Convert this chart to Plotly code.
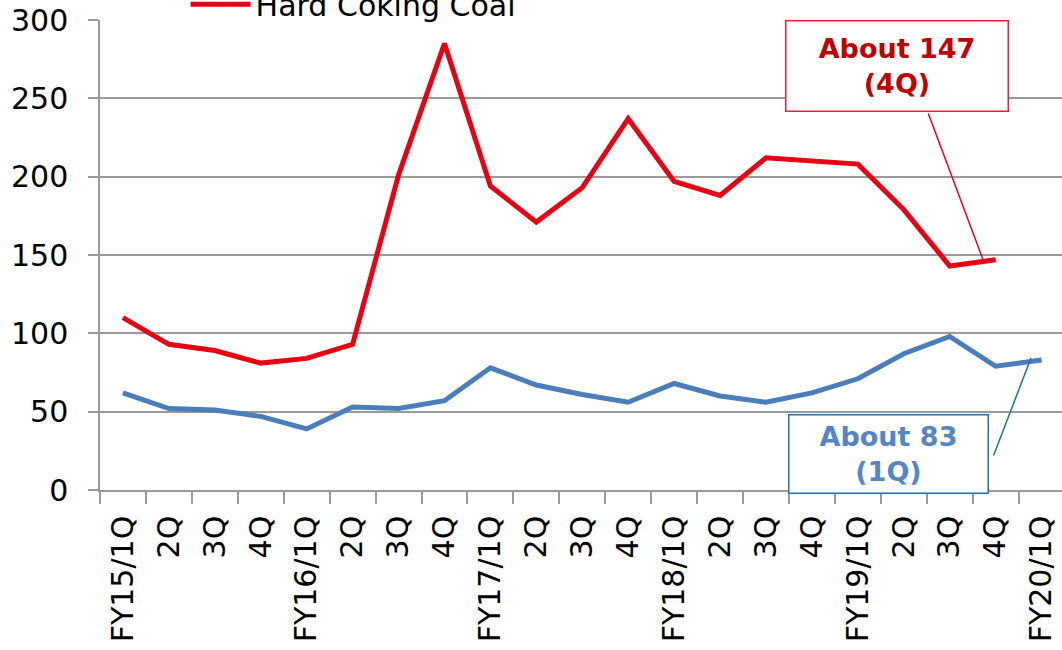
import plotly.graph_objects as go

# Quarterly coal prices (US$/t), FY15/1Q .. FY20/1Q
quarters = [
    "FY15/1Q", "FY15/2Q", "FY15/3Q", "FY15/4Q",
    "FY16/1Q", "FY16/2Q", "FY16/3Q", "FY16/4Q",
    "FY17/1Q", "FY17/2Q", "FY17/3Q", "FY17/4Q",
    "FY18/1Q", "FY18/2Q", "FY18/3Q", "FY18/4Q",
    "FY19/1Q", "FY19/2Q", "FY19/3Q", "FY19/4Q",
    "FY20/1Q",
]
tick_labels = [
    "FY15/1Q", "2Q", "3Q", "4Q",
    "FY16/1Q", "2Q", "3Q", "4Q",
    "FY17/1Q", "2Q", "3Q", "4Q",
    "FY18/1Q", "2Q", "3Q", "4Q",
    "FY19/1Q", "2Q", "3Q", "4Q",
    "FY20/1Q",
]
hard_coking_coal = [110, 93, 89, 81, 84, 93, 201, 285, 194, 171, 193, 237,
                    197, 188, 212, 210, 208, 179, 143, 147, None]
thermal_coal = [62, 52, 51, 47, 39, 53, 52, 57, 78, 67, 61, 56,
                68, 60, 56, 62, 71, 87, 98, 79, 83]

RED = "#E60012"
BLUE = "#4A7EBB"
GRID = "#9A9A9A"
FONT = "DejaVu Sans"

fig = go.Figure()
fig.add_trace(go.Scatter(
    x=quarters, y=thermal_coal, name="Thermal Coal", mode="lines",
    line=dict(color=BLUE, width=5),
))
fig.add_trace(go.Scatter(
    x=quarters, y=hard_coking_coal, name="Hard Coking Coal", mode="lines",
    line=dict(color=RED, width=5),
))

# callout boxes
box_font = dict(family=FONT, size=27, weight="bold")
fig.add_annotation(
    x=16.863, y=270.8, xref="x", yref="y", showarrow=False,
    text="About 147<br>(4Q)", align="center",
    font=dict(box_font, color="#C00000"),
    bgcolor="white", bordercolor="#E8203A", borderwidth=1.5, borderpad=0,
    width=221, height=89,
)
fig.add_annotation(
    x=16.678, y=23.3, xref="x", yref="y", showarrow=False,
    text="About 83<br>(1Q)", align="center",
    font=dict(box_font, color="#5585C5"),
    bgcolor="white", bordercolor="#1F6FB8", borderwidth=1.5, borderpad=0,
    width=198, height=77,
)
# leader lines
fig.add_annotation(
    x=18.72, y=147.5, xref="x", yref="y", text="", showarrow=True,
    arrowhead=0, arrowwidth=1.5, arrowcolor=RED, ax=-55, ay=-147, standoff=0,
)
fig.add_annotation(
    x=19.77, y=84.2, xref="x", yref="y", text="", showarrow=True,
    arrowhead=0, arrowwidth=1.5, arrowcolor="#1F6FB8", ax=-38, ay=99, standoff=0,
)

fig.update_layout(
    width=1062, height=650,
    margin=dict(l=100, r=0, t=20, b=160, autoexpand=False),
    paper_bgcolor="white", plot_bgcolor="white",
    font=dict(family=FONT, size=30, color="black"),
    showlegend=True,
    legend=dict(
        x=0.089, y=0.978, xanchor="left", yanchor="bottom",
        bgcolor="rgba(0,0,0,0)", font=dict(size=30), itemwidth=60,
    ),
)
fig.update_xaxes(
    type="category", categoryorder="array", categoryarray=quarters,
    tickmode="array", tickvals=quarters, ticktext=tick_labels,
    tickangle=-90, tickson="boundaries", ticks="outside", ticklen=12,
    tickwidth=1.5, tickcolor=GRID,
    showline=True, linecolor=GRID, linewidth=1.5,
    showgrid=False, zeroline=False, ticklabelstandoff=12,
    range=[-0.5, 20.445],
    tickfont=dict(family=FONT, size=30, color="black"),
)
fig.update_yaxes(
    range=[0, 300], dtick=50, tick0=0,
    ticks="outside", ticklen=10, tickwidth=1.5, tickcolor=GRID,
    showline=True, linecolor=GRID, linewidth=1.5,
    showgrid=True, gridcolor=GRID, gridwidth=1.5,
    zeroline=False, ticklabelstandoff=14,
    tickfont=dict(family=FONT, size=30, color="black"),
)

fig.write_html("out.html")
